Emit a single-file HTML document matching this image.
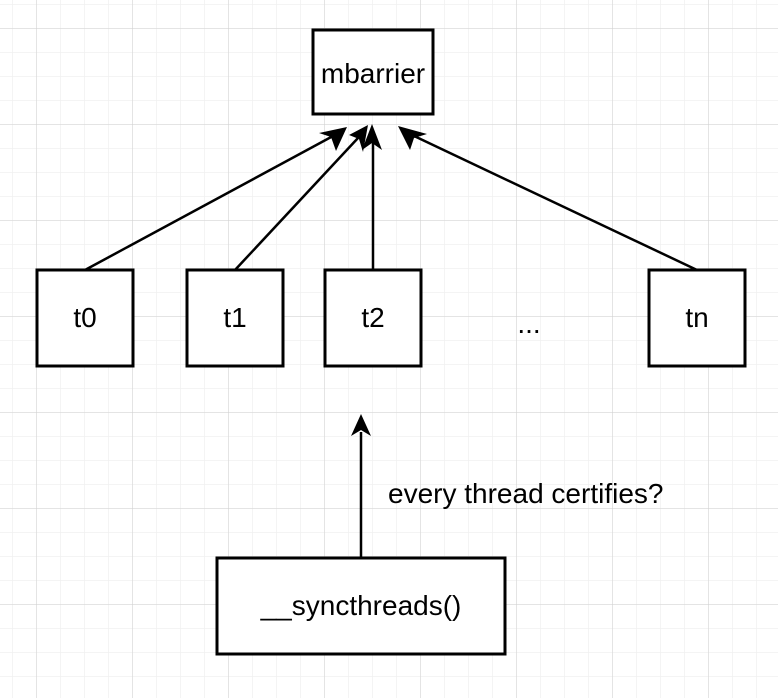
<!DOCTYPE html>
<html><head><meta charset="utf-8"><style>
body{margin:0;background:#fff}
svg{display:block}
text{font-family:"Liberation Sans",Helvetica,Arial,sans-serif;font-size:28px;fill:#000}
</style></head><body>
<svg width="778" height="698" viewBox="0 0 778 698" xmlns="http://www.w3.org/2000/svg">
<defs>
<pattern id="minor" width="24" height="24" patternUnits="userSpaceOnUse" x="12" y="4">
<path d="M0 0H24M0 0V24" stroke="#f0f0f0" stroke-width="1.5" fill="none"/>
</pattern>
<pattern id="major" width="96" height="96" patternUnits="userSpaceOnUse" x="36" y="28">
<path d="M0 0H96M0 0V96" stroke="#d0d0d0" stroke-width="1" fill="none"/>
</pattern>
</defs>
<rect width="778" height="698" fill="#fff"/>
<rect width="778" height="698" fill="url(#minor)"/>
<rect width="778" height="698" fill="url(#major)"/>
<g stroke="#000" stroke-width="3" fill="#fff">
<rect x="313" y="30" width="120" height="84"/>
<rect x="37" y="270" width="96" height="96"/>
<rect x="187" y="270" width="96" height="96"/>
<rect x="325" y="270" width="96" height="96"/>
<rect x="649" y="270" width="96" height="96"/>
<rect x="217" y="558" width="288" height="96"/>
</g>
<g stroke="#000" stroke-width="2.5" fill="none">
<line x1="85" y1="270" x2="333" y2="136"/>
<line x1="235" y1="270" x2="358" y2="138"/>
<line x1="373" y1="270" x2="373" y2="140"/>
<line x1="697" y1="270" x2="412" y2="135"/>
<line x1="361" y1="558" x2="361" y2="432"/>
</g>
<g fill="#000">
<polygon points="347,127 319,133 331,137 336,151"/>
<polygon points="368,125 349,135 359,139 363,152"/>
<polygon points="372,124 362,150 372,143 382,150"/>
<polygon points="398,126 410,150 414,138 427,134"/>
<polygon points="361,414 351,436 361,430 371,436"/>
</g>
<text x="373" y="83" text-anchor="middle">mbarrier</text>
<text x="85" y="327" text-anchor="middle">t0</text>
<text x="235" y="327" text-anchor="middle">t1</text>
<text x="373" y="327" text-anchor="middle">t2</text>
<text x="697" y="327" text-anchor="middle">tn</text>
<text x="529" y="333" text-anchor="middle">...</text>
<text x="388" y="503">every thread certifies?</text>
<text x="361" y="615" text-anchor="middle">__syncthreads()</text>
</svg>
</body></html>
